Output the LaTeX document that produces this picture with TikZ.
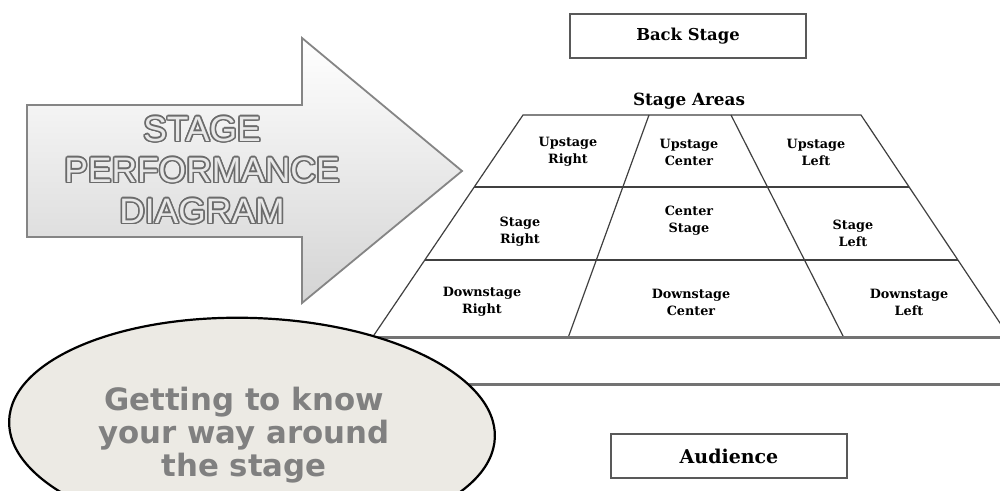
\documentclass[tikz,border=0pt]{standalone}
\usepackage{fontspec}
\setmainfont{DejaVu Serif}
\newfontfamily\headfont{Liberation Sans}
\newfontfamily\blurbfont{DejaVu Sans}
\usepackage{contour}
\usetikzlibrary{calc,shapes.geometric}

\contourlength{0.75pt}
\newcommand{\outlined}[1]{\contour{black!58}{#1}}

\begin{document}
\begin{tikzpicture}[x=0.5pt,y=-0.5pt,semithick,
  cell/.style={font=\fontsize{6.4}{8.5}\selectfont\bfseries,align=center},
  boxlabel/.style={draw=black!65,line width=1.2pt,minimum width=118pt,minimum height=22pt,font=\fontsize{8.2}{10}\selectfont\bfseries},
  gridline/.style={draw=black!75,line width=0.6pt},
  floorline/.style={draw=black!55,line width=1.5pt}]
\clip (0,0) rectangle (1000,491);
\fill[white] (0,0) rectangle (1000,491);

% big arrow
\shade[top color=white,middle color=black!3,bottom color=black!17,draw=black!48,line width=0.9pt]
  (27,105) -- (302,105) -- (302,38) -- (462,171) -- (302,303) -- (302,237) -- (27,237) -- cycle;
\node[font=\headfont\fontsize{17.7}{20.5}\selectfont,align=center,text=black!9] (title) at (202,171)
  {\outlined{STAGE}\\\outlined{PERFORMANCE}\\\outlined{DIAGRAM}};

% stage outline
\coordinate (tl) at (523,115);
\coordinate (tr) at (861,115);
\coordinate (bl) at (372,338);
\coordinate (br) at (1010,338);
\coordinate (ta) at (649,115);
\coordinate (ba) at (568,338);
\coordinate (tb) at (731,115);
\coordinate (bb) at (844,338);

\draw[gridline] (bl) -- (tl) -- (tr) -- (br);
\draw[gridline] (ta) -- (ba) (tb) -- (bb);
\draw[gridline] ($(tl)!0.323!(bl)$) -- ($(tr)!0.323!(br)$);
\draw[gridline] ($(tl)!0.650!(bl)$) -- ($(tr)!0.650!(br)$);
\draw[floorline] (bl) -- (1005,338);
\draw[floorline] (360,384) -- (1005,384);

\node[boxlabel] (back) at (688,36) {Back Stage};
\node[font=\fontsize{8.4}{10}\selectfont\bfseries] (areas) at (689,101) {Stage Areas};

\node[cell] (ur) at (568,152) {Upstage\\Right};
\node[cell] (uc) at (689,152) {Upstage\\Center};
\node[cell] (ul) at (816,152) {Upstage\\Left};
\node[cell] (sr) at (520,232) {Stage\\Right};
\node[cell] (cs) at (689,221) {Center\\Stage};
\node[cell] (sl) at (853,233) {Stage\\Left};
\node[cell] (dr) at (482,302) {Downstage\\Right};
\node[cell] (dc) at (691,302) {Downstage\\Center};
\node[cell] (dl) at (909,302) {Downstage\\Left};

\node[boxlabel,font=\fontsize{9.5}{10}\selectfont\bfseries] (audience) at (729,456) {Audience};

% bubble
\node[ellipse,draw=black,line width=1.1pt,fill={rgb,255:red,236;green,234;blue,228},rotate=-2,
  minimum width=243pt,minimum height=111pt] (blob) at (252,429) {};
\node[font=\blurbfont\bfseries\fontsize{15.4}{16.5}\selectfont,align=center,text=black!50] (blurb) at (244,435)
  {Getting to know\\your way around\\the stage};
\end{tikzpicture}
\end{document}
